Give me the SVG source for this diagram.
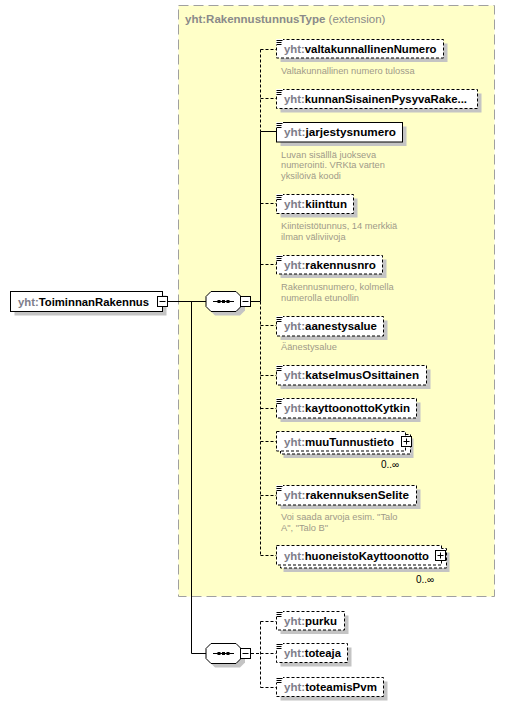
<svg xmlns="http://www.w3.org/2000/svg" width="505" height="706" viewBox="0 0 505 706">
<style>
.bg{fill:#fff}
.ext{fill:#ffffc8;stroke:#a0a0a0;stroke-width:1;stroke-dasharray:10,5}
.sh{fill:#c4c4c4}
.box{fill:#fff;stroke:#000;stroke-width:1}
.opt{stroke-dasharray:3,2}
.con{fill:none;stroke:#000;stroke-width:1}
.dc{stroke-dasharray:3,2}
.lbl{font-family:"Liberation Sans",Arial,sans-serif;font-size:11.5px;font-weight:bold;fill:#000}
.pf{fill:#7d7d8a}
.desc{font-family:"Liberation Sans",Arial,sans-serif;font-size:9.3px;fill:#a09a88}
.occ{font-family:"Liberation Sans",Arial,sans-serif;font-size:10px;fill:#000}
.ttl{font-family:"Liberation Sans",Arial,sans-serif;font-size:11.5px;fill:#8a8a8a}
.ic{stroke:#000;stroke-width:1}
</style>
<defs>
<g id="icon"><rect x="0" y="0" width="7" height="6" fill="#fff"/><path d="M0.5 1.5h6M0.5 3.5h5M0.5 5.5h5" class="ic"/></g>
<g id="minus"><rect x="0.5" y="0.5" width="10" height="10" fill="#fff" stroke="#000"/><path d="M2.5 5.5h6" stroke="#000"/></g>
<g id="plus"><rect x="0.5" y="0.5" width="10" height="10" fill="#fff" stroke="#000"/><path d="M2.5 5.5h6M5.5 2.5v6" stroke="#000"/></g>
<g id="seq"><path d="M5.5 0.5h25l5 5v10l-5 5h-25l-5-5v-10z" class="sh" transform="translate(4,4)"/><path d="M5.5 0.5h25l5 5v10l-5 5h-25l-5-5v-10z" fill="#fff" stroke="#000"/><path d="M7.5 10.5h21" stroke="#000"/><rect x="12" y="9" width="3" height="3" fill="#000"/><rect x="16.5" y="9" width="3" height="3" fill="#000"/><rect x="21" y="9" width="3" height="3" fill="#000"/></g>
</defs>
<rect class="bg" x="0" y="0" width="505" height="706"/>

<g id="extension">
<rect class="ext" x="178.5" y="5.5" width="316" height="591"/>
<text class="ttl" x="185" y="23"><tspan font-weight="bold">yht:RakennustunnusType</tspan> (extension)</text>
</g>

<g id="connectors">
<path class="con" d="M168 301.5H206.5M191.5 301.5V653.5H206.5"/>
<path class="con" d="M251 301.5H260.5M260.5 131.5V301.5M260.5 131.5H276.5"/>
<path class="con dc" d="M260.5 49.5V131.5M260.5 49.5H276.5M260.5 98.5H276.5"/>
<path class="con dc" d="M260.5 301.5V555.5M260.5 203.5H276.5M260.5 264.5H276.5M260.5 325.5H276.5M260.5 375.5H276.5M260.5 408.5H276.5M260.5 441.5H276.5M260.5 495.5H276.5M260.5 555.5H276.5"/>
<path class="con dc" d="M251 653.5H260.5M260.5 621.5V687.5M260.5 621.5H276.5M260.5 653.5H276.5M260.5 687.5H276.5"/>
</g>

<g id="n-ToiminnanRakennus">
<rect class="sh" x="14.5" y="295.5" width="152" height="20"/>
<rect class="box" x="10.5" y="291.5" width="152" height="20"/>
<text class="lbl" x="18" y="306" textLength="131" lengthAdjust="spacingAndGlyphs"><tspan class="pf">yht:</tspan>ToiminnanRakennus</text>
<use href="#minus" x="157" y="296"/>
</g>

<g id="seq1"><use href="#seq" x="205.5" y="291"/><use href="#minus" x="240" y="296"/></g>
<g id="seq2"><use href="#seq" x="205.5" y="643"/><use href="#minus" x="240" y="648"/></g>

<g id="n-valtakunnallinenNumero">
<rect class="sh" x="280.5" y="43.5" width="167" height="18.5"/>
<rect class="box opt" x="276.5" y="39.5" width="167" height="18.5"/>
<use href="#icon" x="276" y="39"/>
<text class="lbl" x="284" y="53" textLength="152.5" lengthAdjust="spacingAndGlyphs"><tspan class="pf">yht:</tspan>valtakunnallinenNumero</text>
<text class="desc" x="281" y="74">Valtakunnallinen numero tulossa</text>
</g>

<g id="n-kunnanSisainenPysyvaRakennusnumero">
<rect class="sh" x="280.5" y="93.5" width="201" height="19"/>
<rect class="box opt" x="276.5" y="89.5" width="201" height="19"/>
<use href="#icon" x="276" y="89"/>
<text class="lbl" x="284" y="103" textLength="183" lengthAdjust="spacingAndGlyphs"><tspan class="pf">yht:</tspan>kunnanSisainenPysyvaRake...</text>
</g>

<g id="n-jarjestysnumero">
<rect class="sh" x="280.5" y="126.5" width="126" height="19.5"/>
<rect class="box" x="276.5" y="122.5" width="126" height="19.5"/>
<use href="#icon" x="276" y="122"/>
<text class="lbl" x="284" y="136" textLength="112" lengthAdjust="spacingAndGlyphs"><tspan class="pf">yht:</tspan>jarjestysnumero</text>
<text class="desc" x="281" y="157.5">Luvan sisälllä juokseva</text>
<text class="desc" x="281" y="168">numerointi. VRKta varten</text>
<text class="desc" x="281" y="178.5">yksilöivä koodi</text>
</g>

<g id="n-kiinttun">
<rect class="sh" x="280.5" y="198.5" width="77" height="19"/>
<rect class="box opt" x="276.5" y="194.5" width="77" height="19"/>
<use href="#icon" x="276" y="194"/>
<text class="lbl" x="284" y="208" textLength="63" lengthAdjust="spacingAndGlyphs"><tspan class="pf">yht:</tspan>kiinttun</text>
<text class="desc" x="281" y="228.5">Kiinteistötunnus, 14 merkkiä</text>
<text class="desc" x="281" y="239.5">ilman väliviivoja</text>
</g>

<g id="n-rakennusnro">
<rect class="sh" x="280.5" y="259.5" width="106" height="18.5"/>
<rect class="box opt" x="276.5" y="255.5" width="106" height="18.5"/>
<use href="#icon" x="276" y="255"/>
<text class="lbl" x="284" y="269" textLength="92" lengthAdjust="spacingAndGlyphs"><tspan class="pf">yht:</tspan>rakennusnro</text>
<text class="desc" x="281" y="290">Rakennusnumero, kolmella</text>
<text class="desc" x="281" y="301">numerolla etunollin</text>
</g>

<g id="n-aanestysalue">
<rect class="sh" x="280.5" y="320.5" width="107" height="19.5"/>
<rect class="box opt" x="276.5" y="316.5" width="107" height="19.5"/>
<use href="#icon" x="276" y="316"/>
<text class="lbl" x="284" y="330" textLength="93" lengthAdjust="spacingAndGlyphs"><tspan class="pf">yht:</tspan>aanestysalue</text>
<text class="desc" x="281" y="350">Äänestysalue</text>
</g>

<g id="n-katselmusOsittainen">
<rect class="sh" x="280.5" y="369.5" width="150" height="19.5"/>
<rect class="box opt" x="276.5" y="365.5" width="150" height="19.5"/>
<use href="#icon" x="276" y="365"/>
<text class="lbl" x="284" y="379" textLength="135" lengthAdjust="spacingAndGlyphs"><tspan class="pf">yht:</tspan>katselmusOsittainen</text>
</g>

<g id="n-kayttoonottoKytkin">
<rect class="sh" x="280.5" y="402.5" width="140" height="19.5"/>
<rect class="box opt" x="276.5" y="398.5" width="140" height="19.5"/>
<use href="#icon" x="276" y="398"/>
<text class="lbl" x="284" y="412" textLength="126" lengthAdjust="spacingAndGlyphs"><tspan class="pf">yht:</tspan>kayttoonottoKytkin</text>
</g>

<g id="n-muuTunnustieto">
<rect class="sh" x="283.5" y="438.5" width="130" height="19.5"/>
<rect class="box opt" x="280.5" y="434.5" width="130" height="19.5"/>
<rect class="box opt" x="276.5" y="431.5" width="129" height="19.5"/>
<text class="lbl" x="284" y="445.5" textLength="110" lengthAdjust="spacingAndGlyphs"><tspan class="pf">yht:</tspan>muuTunnustieto</text>
<use href="#plus" x="401" y="436"/>
<text class="occ" x="381" y="468">0..∞</text>
</g>

<g id="n-rakennuksenSelite">
<rect class="sh" x="280.5" y="489.5" width="140" height="19.5"/>
<rect class="box opt" x="276.5" y="485.5" width="140" height="19.5"/>
<use href="#icon" x="276" y="485"/>
<text class="lbl" x="284" y="499" textLength="125" lengthAdjust="spacingAndGlyphs"><tspan class="pf">yht:</tspan>rakennuksenSelite</text>
<text class="desc" x="281" y="520">Voi saada arvoja esim. "Talo</text>
<text class="desc" x="281" y="530.5">A", "Talo B"</text>
</g>

<g id="n-huoneistoKayttoonotto">
<rect class="sh" x="283.5" y="552.5" width="166" height="19.5"/>
<rect class="box opt" x="280.5" y="548.5" width="166" height="19.5"/>
<rect class="box opt" x="276.5" y="545.5" width="165" height="19.5"/>
<text class="lbl" x="284" y="559.5" textLength="145" lengthAdjust="spacingAndGlyphs"><tspan class="pf">yht:</tspan>huoneistoKayttoonotto</text>
<use href="#plus" x="435" y="550"/>
<text class="occ" x="416" y="583">0..∞</text>
</g>

<g id="n-purku">
<rect class="sh" x="280.5" y="615.5" width="68" height="18.5"/>
<rect class="box opt" x="276.5" y="611.5" width="68" height="18.5"/>
<use href="#icon" x="276" y="611"/>
<text class="lbl" x="284" y="625" textLength="53" lengthAdjust="spacingAndGlyphs"><tspan class="pf">yht:</tspan>purku</text>
</g>

<g id="n-toteaja">
<rect class="sh" x="280.5" y="647.5" width="71" height="19"/>
<rect class="box opt" x="276.5" y="643.5" width="71" height="19"/>
<use href="#icon" x="276" y="643"/>
<text class="lbl" x="284" y="657" textLength="57" lengthAdjust="spacingAndGlyphs"><tspan class="pf">yht:</tspan>toteaja</text>
</g>

<g id="n-toteamisPvm">
<rect class="sh" x="280.5" y="681.5" width="107" height="19"/>
<rect class="box opt" x="276.5" y="677.5" width="107" height="19"/>
<use href="#icon" x="276" y="677"/>
<text class="lbl" x="284" y="691" textLength="93" lengthAdjust="spacingAndGlyphs"><tspan class="pf">yht:</tspan>toteamisPvm</text>
</g>
</svg>
